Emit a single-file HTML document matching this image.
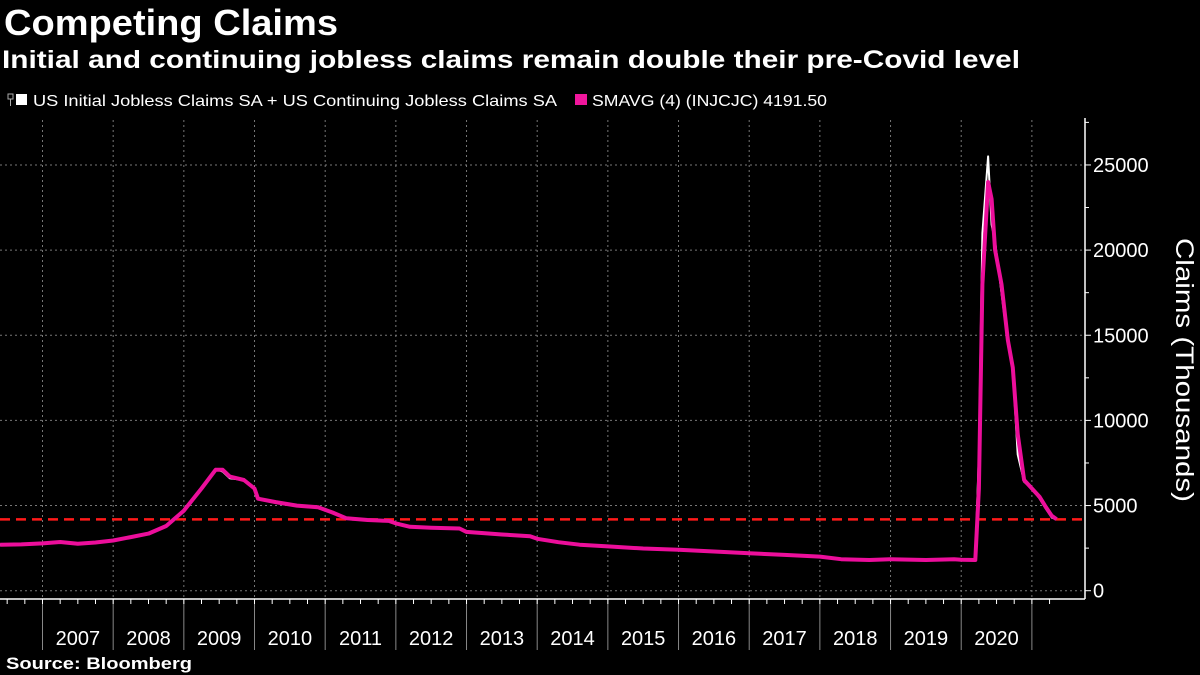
<!DOCTYPE html>
<html><head><meta charset="utf-8"><style>
html,body{margin:0;padding:0;background:#000;}
svg{display:block;}
text{font-family:"Liberation Sans",sans-serif;fill:#fff;}
</style></head><body>
<svg id="chart" width="1200" height="675" viewBox="0 0 1200 675">
<text x="4" y="35" font-size="36" font-weight="bold" textLength="334" lengthAdjust="spacingAndGlyphs">Competing Claims</text>
<text x="2" y="68" font-size="25" font-weight="bold" textLength="1018" lengthAdjust="spacingAndGlyphs">Initial and continuing jobless claims remain double their pre-Covid level</text>
<g>
<rect x="8" y="94" width="5" height="5" fill="none" stroke="#aaa" stroke-width="1"/>
<line x1="10.5" y1="99" x2="10.5" y2="106" stroke="#aaa"/>
<rect x="16" y="94" width="11" height="11" fill="#fff"/>
<text x="33" y="106" font-size="16" textLength="524" lengthAdjust="spacingAndGlyphs">US Initial Jobless Claims SA + US Continuing Jobless Claims SA</text>
<rect x="575" y="94" width="12" height="11" fill="#f0169c"/>
<text x="592" y="106" font-size="16" textLength="235" lengthAdjust="spacingAndGlyphs">SMAVG (4) (INJCJC) 4191.50</text>
</g>
<g id="grid"></g><g id="axes"></g><g id="series"></g>
<text transform="translate(1176,370) rotate(90)" text-anchor="middle" font-size="25" textLength="264" lengthAdjust="spacingAndGlyphs">Claims (Thousands)</text>
<text x="6" y="669" font-size="17" font-weight="bold" textLength="186" lengthAdjust="spacingAndGlyphs">Source: Bloomberg</text>
</svg>
<script>
const years=[2007,2008,2009,2010,2011,2012,2013,2014,2015,2016,2017,2018,2019,2020];
const yTicks=[0,5000,10000,15000,20000,25000];
const dates=[2006.4,2006.7,2007.0,2007.25,2007.5,2007.75,2008.0,2008.25,2008.5,2008.75,2009.0,2009.25,2009.45,2009.55,2009.65,2009.85,2010.0,2010.05,2010.3,2010.6,2010.9,2011.1,2011.3,2011.6,2011.9,2012.0,2012.2,2012.5,2012.9,2013.0,2013.5,2013.9,2014.0,2014.3,2014.6,2015.0,2015.5,2016.0,2016.5,2017.0,2017.5,2018.0,2018.3,2018.7,2019.0,2019.5,2019.9,2020.0,2020.2,2020.25,2020.3,2020.38,2020.43,2020.48,2020.57,2020.66,2020.73,2020.8,2020.89,2021.0,2021.11,2021.2,2021.28,2021.35];
const smavg=[2700,2720,2780,2860,2760,2830,2950,3150,3350,3800,4700,6000,7100,7100,6700,6500,6000,5400,5200,5000,4900,4600,4250,4150,4100,3950,3750,3700,3650,3450,3300,3200,3050,2850,2700,2600,2480,2400,2300,2200,2100,2000,1850,1800,1850,1800,1850,1820,1800,6000,18000,24000,23000,20000,18000,14700,13100,9200,6500,6000,5500,4900,4400,4190];
const total=[2700,2720,2780,2860,2760,2830,2950,3150,3350,3800,4700,6000,7150,7000,6600,6500,6000,5400,5200,5000,4900,4600,4250,4150,4100,3950,3750,3700,3650,3450,3300,3200,3050,2850,2700,2600,2480,2400,2300,2200,2100,2000,1850,1800,1850,1800,1850,1820,1800,8000,21000,25500,21500,20500,17500,14500,13000,8000,6400,6000,5400,4800,4300,4190];
const refLevel=4191.5;
const NS='http://www.w3.org/2000/svg';
const X=d=>42.5+(d-2007)*70.67;
const Y=v=>590.7-v*0.01703;
const grid=document.getElementById('grid'),axes=document.getElementById('axes'),series=document.getElementById('series');
function mk(p,tag,attrs){const e=document.createElementNS(NS,tag);for(const k in attrs)e.setAttribute(k,attrs[k]);p.appendChild(e);return e;}
yTicks.forEach(v=>{
 const l=mk(grid,'line',{x1:0,x2:1085,y1:Y(v),y2:Y(v),stroke:'#777','stroke-dasharray':'2,3','stroke-width':1});
 
 
 const t=mk(axes,'line',{x1:1085,x2:1091,y1:Y(v),y2:Y(v),stroke:'#fff'});
 
 
 const m=mk(axes,'line',{x1:1085,x2:1089,y1:Y(v+2500),y2:Y(v+2500),stroke:'#fff'});
 
 
 const tx=mk(axes,'text',{x:1093,y:Y(v)+7,'font-size':20});
 tx.textContent=v;
 
 
});
years.concat([2021]).forEach(yr=>{
 const g=mk(grid,'line',{x1:X(yr),x2:X(yr),y1:120,y2:598,stroke:'#777','stroke-dasharray':'2,3'});
 
 
 const t=mk(axes,'line',{x1:X(yr),x2:X(yr),y1:599,y2:650,stroke:'#888'});
 
 
});
for(let q=2006.5;q<2021.5;q+=0.25){
 const m=mk(axes,'line',{x1:X(q),x2:X(q),y1:599,y2:604,stroke:'#fff'});
 
 
}
years.forEach(yr=>{
 const t=mk(axes,'text',{x:X(yr+0.5),y:645,'font-size':20,'text-anchor':'middle'});
 t.textContent=yr;
 
 
});
const xa=mk(axes,'line',{x1:0,x2:1085,y1:599,y2:599,stroke:'#fff','stroke-width':1.5});


const ya=mk(axes,'line',{x1:1085,x2:1085,y1:118,y2:599,stroke:'#fff','stroke-width':1.5});


const pts=a=>a.map((v,i)=>X(dates[i]).toFixed(1)+','+Y(v).toFixed(1)).join(' ');
const w=mk(series,'polyline',{points:pts(total),fill:'none',stroke:'#fff','stroke-width':2,'stroke-linejoin':'round'});


const ref=mk(series,'line',{x1:0,x2:1085,y1:Y(refLevel),y2:Y(refLevel),stroke:'#ff1a1a','stroke-width':2.5,'stroke-dasharray':'10,6'});


const p=mk(series,'polyline',{points:pts(smavg),fill:'none',stroke:'#ec0e9b','stroke-width':4,'stroke-linejoin':'round'});


</script>
</body></html>
